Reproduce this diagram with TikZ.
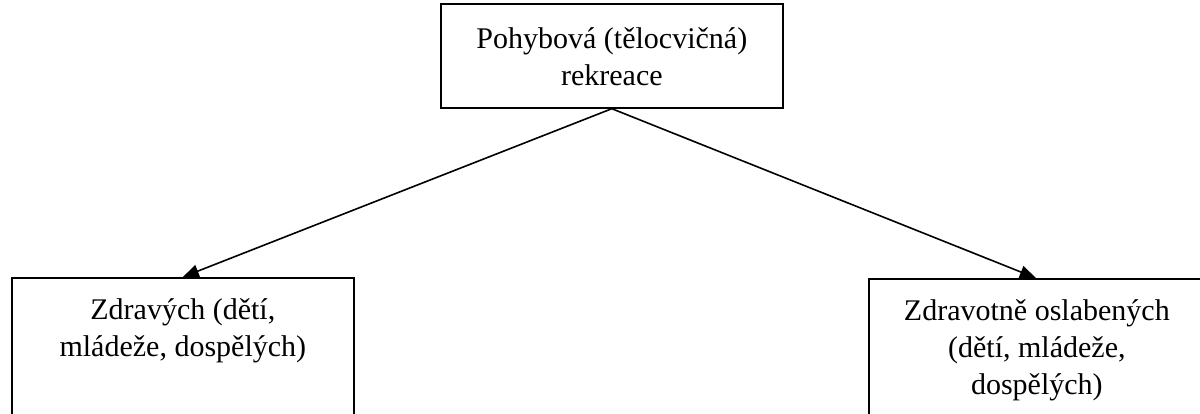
\documentclass[tikz,border=0pt]{standalone}
\usepackage{fontspec}
\setmainfont{Liberation Serif}
\usetikzlibrary{arrows.meta}
\begin{document}
\begin{tikzpicture}[x=1pt,y=-1pt,
  boxshape/.style={draw=black, line width=1.7pt, rectangle, inner sep=0pt, anchor=north west},
  boxtext/.style={font=\fontsize{30}{37}\selectfont, align=center, inner sep=0pt, anchor=north},
  conn/.style={line width=1.6pt, -{Triangle[length=16pt,width=13pt]}}]
\useasboundingbox (0,0) rectangle (1200,414);
\clip (0,0) rectangle (1200,414);
\node[boxshape, minimum width=342pt, minimum height=104pt] (top) at (440,3) {};
\node[boxshape, minimum width=342pt, minimum height=200pt] (left) at (11,277) {};
\node[boxshape, minimum width=342pt, minimum height=200pt] (right) at (868,278) {};
\node[boxtext] (toptext) at ([yshift=-24pt]top.north) {Pohybová (tělocvičná)\\rekreace};
\node[boxtext] (lefttext) at ([yshift=-21pt]left.north) {Zdravých (dětí,\\mládeže, dospělých)};
\node[boxtext] (righttext) at ([xshift=-3pt,yshift=-21pt]right.north) {Zdravotně oslabených\\(dětí, mládeže,\\dospělých)};
\draw[conn] (top.south) -- (left.north);
\draw[conn] (top.south) -- ([xshift=-4pt]right.north);
\end{tikzpicture}
\end{document}
